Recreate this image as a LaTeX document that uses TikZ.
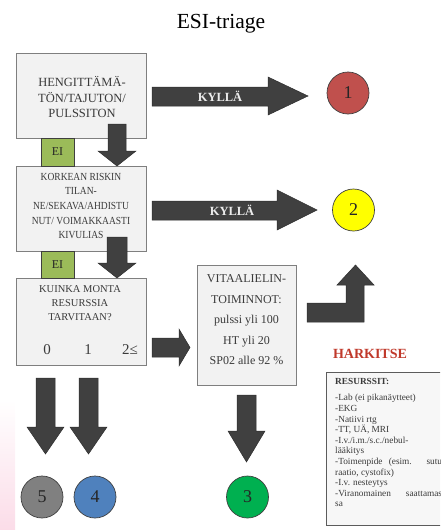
\documentclass[tikz,border=0pt]{standalone}
\usepackage{fontspec}
\setmainfont{Liberation Serif}
\definecolor{boxfill}{HTML}{F2F2F2}
\definecolor{boxline}{HTML}{7F7F7F}
\definecolor{boxtext}{HTML}{3A3A3A}
\definecolor{arrowgray}{HTML}{404040}
\definecolor{arrowedge}{HTML}{2E2E2E}
\definecolor{eigreen}{HTML}{9BBB59}
\definecolor{ballline}{HTML}{3F3F3F}
\definecolor{red1}{HTML}{C0504D}
\definecolor{yellow2}{HTML}{FFFF00}
\definecolor{green3}{HTML}{00B050}
\definecolor{blue4}{HTML}{4F81BD}
\definecolor{gray5}{HTML}{808080}
\definecolor{harkred}{HTML}{C0392B}
\definecolor{edgepink}{HTML}{FBDCE8}
\newcommand{\fs}[2]{\fontsize{#1}{#2}\selectfont}
\begin{document}
\begin{tikzpicture}[x=1pt,y=-1pt,
  box/.style={draw=boxline, fill=boxfill, line width=0.8pt, inner sep=0pt, text=boxtext, align=center},
  blk/.style={fill=arrowgray, draw=arrowedge, line width=0.5pt, line join=miter},
  eibox/.style={draw=ballline, fill=eigreen, line width=0.6pt, minimum width=33pt, inner sep=0pt, font=\fs{12}{12}, text=black!85},
  ball/.style={circle, draw=ballline, line width=0.7pt, minimum size=42pt, inner sep=0pt, font=\fs{18}{18}, text=black!85},
  yes/.style={font=\bfseries\fs{12.5}{12.5}, text=white!92!black}]
\useasboundingbox (0,0) rectangle (440,530);
\clip (0,0) rectangle (440,530);

% faint pink band at the lower left edge
\shade[top color=white, bottom color=edgepink] (0,400) rectangle (15,530);

% title
\node[font=\fs{21.5}{21.5}] (title) at (221,24) {ESI-triage};

% question boxes
\node[box, minimum width=130pt, minimum height=85pt] (q1) at (81,95.5) {};
\node[text=boxtext, align=center, font=\fs{12.5}{15.5}] (q1t) at (82,97)
  {HENGITTÄMÄ-\\TÖN/TAJUTON/\\PULSSITON};
\node[box, minimum width=130pt, minimum height=85pt] (q2) at (81,208.5) {};
\node[text=boxtext, align=center, font=\fs{10.8}{14.7}\addfontfeatures{FakeStretch=0.88}] (q2t) at (81,206)
  {KORKEAN RISKIN\\TILAN-\\NE/SEKAVA/AHDISTU\\NUT/ VOIMAKKAASTI\\KIVULIAS};
\node[box, minimum width=130pt, minimum height=87pt] (q3) at (81,321.5) {};
\node[text=boxtext, align=center, font=\fs{10.5}{14}] (q3t) at (80,303)
  {KUINKA MONTA\\RESURSSIA\\TARVITAAN?};
\node[text=boxtext, font=\fs{15}{15}] (n0) at (47,350) {0};
\node[text=boxtext, font=\fs{15}{15}] (n1) at (88,350) {1};
\node[text=boxtext, font=\fs{15}{15}] (n2) at (130,350) {2≤};

% vital signs box
\node[box, minimum width=99pt, minimum height=120pt] (vit) at (246.5,325) {};
\node[text=boxtext, align=center, font=\fs{12}{20.5}] (vitt) at (246.5,320)
  {VITAALIELIN-\\TOIMINNOT:\\pulssi yli 100\\HT yli 20\\SP02 alle 92 \%};

% downward arrows between the question boxes
\draw[blk] (108,124) -- (126,124) -- (126,151) -- (136,151) -- (117,166)
  -- (98,151) -- (108,151) -- cycle;
\draw[blk] (107,237) -- (127,237) -- (127,263) -- (136,263) -- (117,278)
  -- (98,263) -- (107,263) -- cycle;

% "EI" tabs
\node[eibox, minimum height=28pt] (ei1) at (57.5,152) {EI};
\node[eibox, minimum height=27pt] (ei2) at (57.5,264.5) {EI};

% triage level circles
\node[ball, fill=red1] (c1) at (348,93) {1};
\node[ball, fill=yellow2] (c2) at (353.5,210) {2};
\node[ball, fill=green3] (c3) at (247.5,497) {3};
\node[ball, fill=blue4] (c4) at (95,497) {4};
\node[ball, fill=gray5] (c5) at (42,497) {5};

% "KYLLÄ" arrows
\draw[blk] (152,87) -- (268,87) -- (268,77) -- (308,96) -- (268,115)
  -- (268,106) -- (152,106) -- cycle;
\node[yes] (y1) at (220,96.5) {KYLLÄ};
\draw[blk] (152,201) -- (277,201) -- (277,190) -- (317,210) -- (277,230)
  -- (277,220) -- (152,220) -- cycle;
\node[yes] (y2) at (232,210.5) {KYLLÄ};

% arrow from resources to vital signs
\draw[blk] (152,338) -- (179,338) -- (179,329) -- (190,347.5) -- (179,366)
  -- (179,357) -- (152,357) -- cycle;

% bent arrow from vital signs up to level 2
\draw[blk] (307,303) -- (346,303) -- (346,285) -- (337,285) -- (355.5,265)
  -- (374,285) -- (364,285) -- (364,322) -- (307,322) -- cycle;

% arrows down to levels 5, 4 and 3
\draw[blk] (36,378) -- (55,378) -- (55,427) -- (64,427) -- (45.5,454)
  -- (27,427) -- (36,427) -- cycle;
\draw[blk] (79,378) -- (98,378) -- (98,427) -- (107,427) -- (88.5,454)
  -- (70,427) -- (79,427) -- cycle;
\draw[blk] (237,395) -- (256,395) -- (256,431) -- (265,431) -- (246.5,462)
  -- (228,431) -- (237,431) -- cycle;

% consider: resources list
\node[font=\bfseries\fs{14}{14}, text=harkred] (hark) at (370,353.5) {HARKITSE};
\node[draw=ballline!85, fill=boxfill!60!white, line width=1pt, minimum width=124pt,
  minimum height=153pt, anchor=north west] (res) at (326,372) {};
\node[anchor=north west, inner sep=0pt, align=left, text=boxtext, font=\fs{9.3}{10.6}]
  (rest) at (335,378)
  {\textbf{RESURSSIT:}\\[6pt]
   -Lab (ei pikanäytteet)\\
   -EKG\\
   -Natiivi rtg\\
   -TT, UÄ, MRI\\
   -I.v./i.m./s.c./nebul-\\
   lääkitys\\
   \makebox[110pt][s]{-Toimenpide (esim. sutu-}\\
   raatio, cystofix)\\
   -I.v. nesteytys\\
   \makebox[110pt][s]{-Viranomainen saattamas-}\\
   sa};
\end{tikzpicture}
\end{document}
